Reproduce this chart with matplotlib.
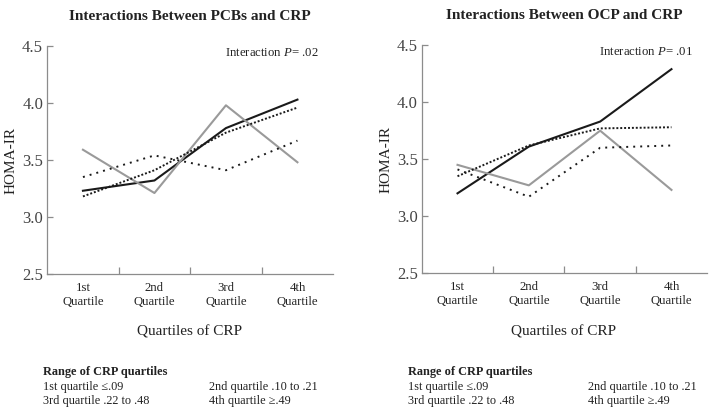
import matplotlib
matplotlib.use("Agg")
import matplotlib.pyplot as plt

################################################################
##### data

QUARTILES = ["1st\nQuartile", "2nd\nQuartile", "3rd\nQuartile", "4th\nQuartile"]
X = [1, 2, 3, 4]

# PCBs panel
pcb_solid_black = [3.23, 3.32, 3.78, 4.03]
pcb_solid_gray = [3.59, 3.21, 3.98, 3.48]
pcb_dot_sparse = [3.35, 3.54, 3.41, 3.67]
pcb_dot_dense = [3.18, 3.41, 3.74, 3.96]

# OCP panel
ocp_solid_black = [3.20, 3.61, 3.83, 4.29]
ocp_solid_gray = [3.45, 3.27, 3.75, 3.23]
ocp_dot_sparse = [3.41, 3.17, 3.60, 3.62]
ocp_dot_dense = [3.35, 3.62, 3.77, 3.78]

TITLES = ["Interactions Between PCBs and CRP", "Interactions Between OCP and CRP"]
P_VALUES = [".02", ".01"]
Y_TICKS = [2.5, 3.0, 3.5, 4.0, 4.5]

RANGE_TITLE = "Range of CRP quartiles"
RANGE_LINES = [
    ["1st quartile \u2264.09", "2nd quartile .10 to .21"],
    ["3rd quartile .22 to .48", "4th quartile \u2265.49"],
]

################################################################

plt.rcParams["font.family"] = ["Liberation Serif", "DejaVu Serif"]
plt.rcParams["mathtext.fontset"] = "custom"
plt.rcParams["mathtext.it"] = "Liberation Serif:italic"
plt.rcParams["mathtext.rm"] = "Liberation Serif"

AXIS_COLOR = "#8c8c8c"
TEXT_COLOR = "#222222"

STYLES = [
    dict(color="#1a1a1a", ls="-", lw=1.5),
    dict(color="#9a9a9a", ls="-", lw=1.5),
    dict(color="#1a1a1a", ls=(0, (1, 2.6)), lw=1.4),
    dict(color="#1a1a1a", ls=(0, (1, 1.0)), lw=1.4),
]

panels = [
    [pcb_solid_black, pcb_solid_gray, pcb_dot_sparse, pcb_dot_dense],
    [ocp_solid_black, ocp_solid_gray, ocp_dot_sparse, ocp_dot_dense],
]

fig = plt.figure(figsize=(7.15, 4.15), dpi=100)
axes_rects = [
    [0.066, 0.340, 0.400, 0.549],
    [0.590, 0.342, 0.399, 0.549],
]

for rect, series, title, pval in zip(axes_rects, panels, TITLES, P_VALUES):
    ax = fig.add_axes(rect)
    for ys, style in zip(series, STYLES):
        ax.plot(X, ys, **style)

    ax.set_xlim(0.5, 4.5)
    ax.set_ylim(2.5, 4.5)
    ax.set_yticks(Y_TICKS)
    ax.set_yticklabels([f"{v:.1f}" for v in Y_TICKS])
    ax.set_xticks(X)
    ax.set_xticklabels(QUARTILES)
    ax.set_xticks([1.5, 2.5, 3.5], minor=True)

    for side in ["top", "right"]:
        ax.spines[side].set_visible(False)
    for side in ["left", "bottom"]:
        ax.spines[side].set_color(AXIS_COLOR)
        ax.spines[side].set_linewidth(0.9)

    ax.tick_params(axis="x", which="major", length=0, pad=6,
                   labelsize=9.2, labelcolor=TEXT_COLOR)
    ax.tick_params(axis="x", which="minor", direction="in", length=5,
                   color=AXIS_COLOR, width=0.9)
    ax.tick_params(axis="y", direction="in", length=4, color=AXIS_COLOR,
                   width=0.9, pad=3, labelsize=12, labelcolor="#444444")

    ax.set_ylabel("HOMA-IR", fontsize=11, color=TEXT_COLOR, labelpad=3)
    ax.set_title(title, fontsize=11, fontweight="bold", color=TEXT_COLOR, pad=19)
    ax.text(0.95, 0.995, rf"Interaction $P$= {pval}", transform=ax.transAxes,
            ha="right", va="top", fontsize=9.2, color=TEXT_COLOR)

# bottom annotations
for x0, x1, xlab in [(43, 209, 190), (408, 588, 564)]:
    fig.text(xlab / 715, 1 - 332 / 415, "Quartiles of CRP", ha="center",
             va="center", fontsize=11, color=TEXT_COLOR)
    fig.text(x0 / 715, 1 - 372 / 415, RANGE_TITLE, ha="left", va="center",
             fontsize=8.8, fontweight="bold", color=TEXT_COLOR)
    for row, y in zip(RANGE_LINES, [387, 401]):
        fig.text(x0 / 715, 1 - y / 415, row[0], ha="left", va="center",
                 fontsize=8.8, color=TEXT_COLOR)
        fig.text(x1 / 715, 1 - y / 415, row[1], ha="left", va="center",
                 fontsize=8.8, color=TEXT_COLOR)

fig.savefig("out.png", dpi=100)
